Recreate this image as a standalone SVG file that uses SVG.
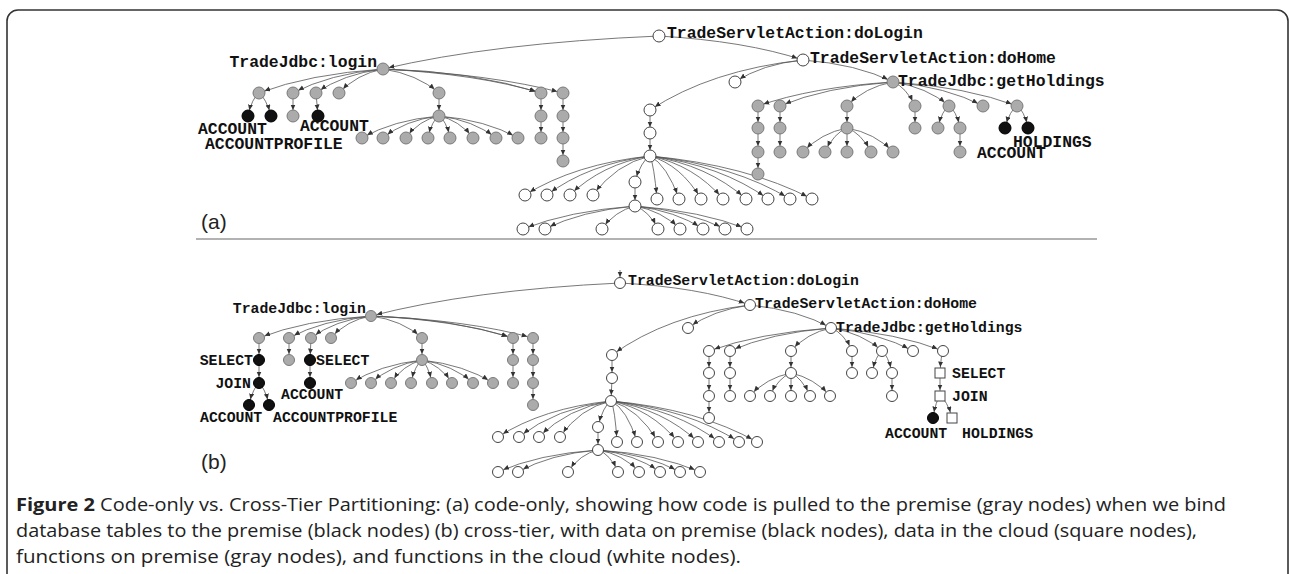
<svg xmlns="http://www.w3.org/2000/svg" width="1290" height="574" viewBox="0 0 1290 574">
<defs>
<marker id="ah" markerUnits="userSpaceOnUse" viewBox="0 0 14 6" markerWidth="14" markerHeight="6" refX="11.5" refY="2.5" orient="auto">
<path d="M0,0 L5.5,2.5 L0,5 z" fill="#333"/>
</marker>
</defs>
<style>
.e{fill:none;stroke:#555;stroke-width:.8;marker-end:url(#ah)}
.w{fill:#fff;stroke:#444;stroke-width:1}
.g{fill:#ababab;stroke:#7a7a7a;stroke-width:1}
.k{fill:#111;stroke:#000;stroke-width:1}
.sq{fill:#fff;stroke:#444;stroke-width:1}
.t{font-family:"Liberation Mono","Courier New",monospace;font-weight:bold;fill:#111}
.ta{font-size:16.4px}
.tb{font-size:14.8px}
.pl{font-family:"Liberation Sans",Arial,sans-serif;font-size:21px;fill:#222}
.cap{font-family:"Open Sans","Noto Sans",sans-serif;font-size:18px;fill:#222}
</style>
<rect width="1290" height="574" fill="#fff"/>
<!-- figure frame -->
<rect x="7" y="10" width="1281" height="620" rx="11" fill="none" stroke="#333" stroke-width="1.6"/>
<line x1="196" y1="239" x2="1097" y2="239" stroke="#999" stroke-width="1.5"/>
<text class="pl" x="201" y="229">(a)</text>
<text class="pl" x="201" y="469">(b)</text>

<g id="connectors">
<!-- panel (a) -->
<path class="e" d="M659 36Q493 43 383 69"/>
<path class="e" d="M659 36Q745 41 803 60"/>
<path class="e" d="M803 60Q857 64 893 82"/>
<path class="e" d="M803 60Q762 64 735 82"/>
<path class="e" d="M803 60Q711 70 650 110"/>
<path class="e" d="M650 110L650 133"/>
<path class="e" d="M650 133L650 156"/>
<path class="e" d="M383 69Q309 74 259 93"/>
<path class="e" d="M383 69Q329 74 293 93"/>
<path class="e" d="M383 69Q343 74 316 93"/>
<path class="e" d="M383 69Q357 74 339 93"/>
<path class="e" d="M383 69Q417 74 439 93"/>
<path class="e" d="M383 69Q478 74 541 93"/>
<path class="e" d="M383 69Q472 71 541 93"/>
<path class="e" d="M383 69Q491 74 563 93"/>
<path class="e" d="M259 93Q252 98 248 116"/>
<path class="e" d="M259 93Q266 98 271 116"/>
<path class="e" d="M293 93L293 116"/>
<path class="e" d="M316 93L318 116"/>
<path class="e" d="M439 93L439 116"/>
<path class="e" d="M439 116Q393 120 362 138"/>
<path class="e" d="M439 116Q405 120 383 138"/>
<path class="e" d="M439 116Q419 120 406 138"/>
<path class="e" d="M439 116Q432 120 428 138"/>
<path class="e" d="M439 116Q446 120 450 138"/>
<path class="e" d="M439 116Q459 120 473 138"/>
<path class="e" d="M439 116Q473 120 496 138"/>
<path class="e" d="M439 116Q486 120 518 138"/>
<path class="e" d="M541 93L541 116"/>
<path class="e" d="M541 116L541 138"/>
<path class="e" d="M563 93L563 116"/>
<path class="e" d="M563 116L563 138"/>
<path class="e" d="M563 138L563 161"/>
<path class="e" d="M650 156Q575 164 525 195"/>
<path class="e" d="M650 156Q588 164 547 195"/>
<path class="e" d="M650 156Q602 164 570 195"/>
<path class="e" d="M650 156Q616 164 593 195"/>
<path class="e" d="M650 156Q641 161 635 182"/>
<path class="e" d="M650 156Q654 165 657 199"/>
<path class="e" d="M650 156Q667 165 679 199"/>
<path class="e" d="M650 156Q681 165 701 199"/>
<path class="e" d="M650 156Q694 165 723 199"/>
<path class="e" d="M650 156Q708 165 746 199"/>
<path class="e" d="M650 156Q721 165 768 199"/>
<path class="e" d="M650 156Q734 165 790 199"/>
<path class="e" d="M650 156Q747 165 812 199"/>
<path class="e" d="M635 182L635 206"/>
<path class="e" d="M635 206Q568 211 523 229"/>
<path class="e" d="M635 206Q581 211 545 229"/>
<path class="e" d="M635 206Q615 211 602 229"/>
<path class="e" d="M635 206Q649 211 658 229"/>
<path class="e" d="M635 206Q662 211 680 229"/>
<path class="e" d="M635 206Q676 211 703 229"/>
<path class="e" d="M635 206Q689 211 725 229"/>
<path class="e" d="M635 206Q702 211 747 229"/>
<path class="e" d="M893 82Q812 87 758 106"/>
<path class="e" d="M893 82Q825 87 780 106"/>
<path class="e" d="M893 82Q865 87 847 106"/>
<path class="e" d="M893 82Q906 87 915 106"/>
<path class="e" d="M893 82Q927 87 949 106"/>
<path class="e" d="M893 82Q947 87 983 106"/>
<path class="e" d="M893 82Q967 87 1017 106"/>
<path class="e" d="M758 106L758 128"/>
<path class="e" d="M758 128L758 152"/>
<path class="e" d="M758 152L758 174"/>
<path class="e" d="M780 106L780 128"/>
<path class="e" d="M780 128L780 152"/>
<path class="e" d="M847 106L847 128"/>
<path class="e" d="M847 128Q821 133 803 152"/>
<path class="e" d="M847 128Q834 133 825 152"/>
<path class="e" d="M847 128L847 152"/>
<path class="e" d="M847 128Q861 133 871 152"/>
<path class="e" d="M847 128Q875 133 893 152"/>
<path class="e" d="M915 106L915 128"/>
<path class="e" d="M949 106Q942 110 938 128"/>
<path class="e" d="M949 106Q956 110 960 128"/>
<path class="e" d="M960 128L960 152"/>
<path class="e" d="M1017 106Q1010 110 1005 128"/>
<path class="e" d="M1017 106Q1024 110 1028 128"/>
<!-- panel (b) -->
<path class="e" d="M620 270L620 283"/>
<path class="e" d="M620 283Q471 290 371 316"/>
<path class="e" d="M620 283Q698 287 750 305"/>
<path class="e" d="M750 305Q799 310 831 328"/>
<path class="e" d="M750 305Q713 310 688 328"/>
<path class="e" d="M750 305Q667 315 612 355"/>
<path class="e" d="M612 355L612 378"/>
<path class="e" d="M612 378L611 401"/>
<path class="e" d="M371 316Q304 320 259 338"/>
<path class="e" d="M371 316Q322 320 289 338"/>
<path class="e" d="M371 316Q335 320 311 338"/>
<path class="e" d="M371 316Q347 320 331 338"/>
<path class="e" d="M371 316Q402 320 422 338"/>
<path class="e" d="M371 316Q456 320 513 338"/>
<path class="e" d="M371 316Q450 318 513 338"/>
<path class="e" d="M371 316Q468 320 533 338"/>
<path class="e" d="M259 338L259 360"/>
<path class="e" d="M259 360L259 383"/>
<path class="e" d="M259 383Q253 388 249 405"/>
<path class="e" d="M259 383Q265 388 269 405"/>
<path class="e" d="M289 338L289 360"/>
<path class="e" d="M311 338L310 360"/>
<path class="e" d="M310 360L310 383"/>
<path class="e" d="M422 338L422 360"/>
<path class="e" d="M422 360Q379 365 351 383"/>
<path class="e" d="M422 360Q391 365 371 383"/>
<path class="e" d="M422 360Q403 365 391 383"/>
<path class="e" d="M422 360Q415 365 411 383"/>
<path class="e" d="M422 360Q428 365 432 383"/>
<path class="e" d="M422 360Q440 365 452 383"/>
<path class="e" d="M422 360Q453 365 473 383"/>
<path class="e" d="M422 360Q465 365 493 383"/>
<path class="e" d="M513 338L513 360"/>
<path class="e" d="M513 360L513 383"/>
<path class="e" d="M533 338L533 360"/>
<path class="e" d="M533 360L533 383"/>
<path class="e" d="M533 383L533 405"/>
<path class="e" d="M611 401Q543 408 498 437"/>
<path class="e" d="M611 401Q556 408 519 437"/>
<path class="e" d="M611 401Q568 408 539 437"/>
<path class="e" d="M611 401Q580 408 560 437"/>
<path class="e" d="M611 401Q603 406 598 427"/>
<path class="e" d="M611 401Q615 409 617 442"/>
<path class="e" d="M611 401Q627 409 637 442"/>
<path class="e" d="M611 401Q639 409 658 442"/>
<path class="e" d="M611 401Q651 409 678 442"/>
<path class="e" d="M611 401Q663 409 698 442"/>
<path class="e" d="M611 401Q676 409 719 442"/>
<path class="e" d="M611 401Q688 409 739 442"/>
<path class="e" d="M611 401Q699 409 757 442"/>
<path class="e" d="M598 427L598 450"/>
<path class="e" d="M598 450Q538 454 498 472"/>
<path class="e" d="M598 450Q550 454 518 472"/>
<path class="e" d="M598 450Q580 454 568 472"/>
<path class="e" d="M598 450Q610 454 618 472"/>
<path class="e" d="M598 450Q623 454 639 472"/>
<path class="e" d="M598 450Q635 454 660 472"/>
<path class="e" d="M598 450Q647 454 680 472"/>
<path class="e" d="M598 450Q659 454 700 472"/>
<path class="e" d="M831 328Q758 333 709 351"/>
<path class="e" d="M831 328Q770 333 730 351"/>
<path class="e" d="M831 328Q807 333 791 351"/>
<path class="e" d="M831 328Q844 333 852 351"/>
<path class="e" d="M831 328Q862 333 882 351"/>
<path class="e" d="M831 328Q880 333 913 351"/>
<path class="e" d="M831 328Q898 333 943 351"/>
<path class="e" d="M709 351L709 373"/>
<path class="e" d="M709 373L709 396"/>
<path class="e" d="M709 396L709 418"/>
<path class="e" d="M730 351L730 373"/>
<path class="e" d="M730 373L730 396"/>
<path class="e" d="M791 351L791 373"/>
<path class="e" d="M791 373Q766 378 750 396"/>
<path class="e" d="M791 373Q778 378 770 396"/>
<path class="e" d="M791 373L791 396"/>
<path class="e" d="M791 373Q802 378 810 396"/>
<path class="e" d="M791 373Q814 378 830 396"/>
<path class="e" d="M852 351L852 373"/>
<path class="e" d="M882 351Q876 355 872 373"/>
<path class="e" d="M882 351Q888 355 892 373"/>
<path class="e" d="M892 373L892 396"/>
<path class="e" d="M943 351Q941 355 940 373"/>
<path class="e" d="M940 373L940 396"/>
<path class="e" d="M940 396Q936 400 933 418"/>
<path class="e" d="M940 396Q947 400 952 418"/>
</g>

<!-- panel (a) nodes: code-only partitioning -->
<g id="panel-a">
<g id="a-doLogin"><circle class="w" cx="659" cy="36" r="6"/><text class="t ta" x="667" y="38">TradeServletAction:doLogin</text></g>
<g id="a-doHome"><circle class="w" cx="803" cy="60" r="6"/><text class="t ta" x="810" y="63">TradeServletAction:doHome</text></g>
<g id="a-getHoldings"><circle class="g" cx="893" cy="82" r="6"/><text class="t ta" x="898" y="86">TradeJdbc:getHoldings</text></g>
<g id="a-login"><circle class="g" cx="383" cy="69" r="6"/><text class="t ta" x="377" y="67" text-anchor="end">TradeJdbc:login</text></g>
<g id="a-l1"><circle class="g" cx="259" cy="93" r="6"/></g>
<g id="a-l1-account"><circle class="k" cx="248" cy="116" r="6"/><text class="t ta" x="198" y="134">ACCOUNT</text></g>
<g id="a-l1-accountprofile"><circle class="k" cx="271" cy="116" r="6"/><text class="t ta" x="205" y="149">ACCOUNTPROFILE</text></g>
<g id="a-l2"><circle class="g" cx="293" cy="93" r="6"/></g>
<g id="a-l2-1"><circle class="g" cx="293" cy="116" r="6"/></g>
<g id="a-l3"><circle class="g" cx="316" cy="93" r="6"/></g>
<g id="a-l3-account"><circle class="k" cx="318" cy="116" r="6"/><text class="t ta" x="300" y="131">ACCOUNT</text></g>
<g id="a-l4"><circle class="g" cx="339" cy="93" r="6"/></g>
<g id="a-l5"><circle class="g" cx="439" cy="93" r="6"/></g>
<g id="a-l5-hub"><circle class="g" cx="439" cy="116" r="6"/></g>
<g id="a-l5-c1"><circle class="g" cx="362" cy="138" r="6"/></g>
<g id="a-l5-c2"><circle class="g" cx="383" cy="138" r="6"/></g>
<g id="a-l5-c3"><circle class="g" cx="406" cy="138" r="6"/></g>
<g id="a-l5-c4"><circle class="g" cx="428" cy="138" r="6"/></g>
<g id="a-l5-c5"><circle class="g" cx="450" cy="138" r="6"/></g>
<g id="a-l5-c6"><circle class="g" cx="473" cy="138" r="6"/></g>
<g id="a-l5-c7"><circle class="g" cx="496" cy="138" r="6"/></g>
<g id="a-l5-c8"><circle class="g" cx="518" cy="138" r="6"/></g>
<g id="a-l6"><circle class="g" cx="541" cy="93" r="6"/></g>
<g id="a-l6-1"><circle class="g" cx="541" cy="116" r="6"/></g>
<g id="a-l6-2"><circle class="g" cx="541" cy="138" r="6"/></g>
<g id="a-l7"><circle class="g" cx="563" cy="93" r="6"/></g>
<g id="a-l7-1"><circle class="g" cx="563" cy="116" r="6"/></g>
<g id="a-l7-2"><circle class="g" cx="563" cy="138" r="6"/></g>
<g id="a-l7-3"><circle class="g" cx="563" cy="161" r="6"/></g>
<g id="a-h1"><circle class="w" cx="735" cy="82" r="6"/></g>
<g id="a-h2"><circle class="w" cx="650" cy="110" r="6"/></g>
<g id="a-h3"><circle class="w" cx="650" cy="133" r="6"/></g>
<g id="a-hub"><circle class="w" cx="650" cy="156" r="6"/></g>
<g id="a-hub-l1"><circle class="w" cx="525" cy="195" r="6"/></g>
<g id="a-hub-l2"><circle class="w" cx="547" cy="195" r="6"/></g>
<g id="a-hub-l3"><circle class="w" cx="570" cy="195" r="6"/></g>
<g id="a-hub-l4"><circle class="w" cx="593" cy="195" r="6"/></g>
<g id="a-hub-m"><circle class="w" cx="635" cy="182" r="6"/></g>
<g id="a-hub-r1"><circle class="w" cx="657" cy="199" r="6"/></g>
<g id="a-hub-r2"><circle class="w" cx="679" cy="199" r="6"/></g>
<g id="a-hub-r3"><circle class="w" cx="701" cy="199" r="6"/></g>
<g id="a-hub-r4"><circle class="w" cx="723" cy="199" r="6"/></g>
<g id="a-hub-r5"><circle class="w" cx="746" cy="199" r="6"/></g>
<g id="a-hub-r6"><circle class="w" cx="768" cy="199" r="6"/></g>
<g id="a-hub-r7"><circle class="w" cx="790" cy="199" r="6"/></g>
<g id="a-hub-r8"><circle class="w" cx="812" cy="199" r="6"/></g>
<g id="a-hub2"><circle class="w" cx="635" cy="206" r="6"/></g>
<g id="a-hub2-c1"><circle class="w" cx="523" cy="229" r="6"/></g>
<g id="a-hub2-c2"><circle class="w" cx="545" cy="229" r="6"/></g>
<g id="a-hub2-c3"><circle class="w" cx="602" cy="229" r="6"/></g>
<g id="a-hub2-c4"><circle class="w" cx="658" cy="229" r="6"/></g>
<g id="a-hub2-c5"><circle class="w" cx="680" cy="229" r="6"/></g>
<g id="a-hub2-c6"><circle class="w" cx="703" cy="229" r="6"/></g>
<g id="a-hub2-c7"><circle class="w" cx="725" cy="229" r="6"/></g>
<g id="a-hub2-c8"><circle class="w" cx="747" cy="229" r="6"/></g>
<g id="a-g1"><circle class="g" cx="758" cy="106" r="6"/></g>
<g id="a-g1-1"><circle class="g" cx="758" cy="128" r="6"/></g>
<g id="a-g1-2"><circle class="g" cx="758" cy="152" r="6"/></g>
<g id="a-g1-3"><circle class="g" cx="758" cy="174" r="6"/></g>
<g id="a-g2"><circle class="g" cx="780" cy="106" r="6"/></g>
<g id="a-g2-1"><circle class="g" cx="780" cy="128" r="6"/></g>
<g id="a-g2-2"><circle class="g" cx="780" cy="152" r="6"/></g>
<g id="a-g3"><circle class="g" cx="847" cy="106" r="6"/></g>
<g id="a-g3-hub"><circle class="g" cx="847" cy="128" r="6"/></g>
<g id="a-g3-c1"><circle class="g" cx="803" cy="152" r="6"/></g>
<g id="a-g3-c2"><circle class="g" cx="825" cy="152" r="6"/></g>
<g id="a-g3-c3"><circle class="g" cx="847" cy="152" r="6"/></g>
<g id="a-g3-c4"><circle class="g" cx="871" cy="152" r="6"/></g>
<g id="a-g3-c5"><circle class="g" cx="893" cy="152" r="6"/></g>
<g id="a-g4"><circle class="g" cx="915" cy="106" r="6"/></g>
<g id="a-g4-1"><circle class="g" cx="915" cy="128" r="6"/></g>
<g id="a-g5"><circle class="g" cx="949" cy="106" r="6"/></g>
<g id="a-g5-1"><circle class="g" cx="938" cy="128" r="6"/></g>
<g id="a-g5-2"><circle class="g" cx="960" cy="128" r="6"/></g>
<g id="a-g5-3"><circle class="g" cx="960" cy="152" r="6"/></g>
<g id="a-g6"><circle class="g" cx="983" cy="106" r="6"/></g>
<g id="a-g7"><circle class="g" cx="1017" cy="106" r="6"/></g>
<g id="a-g7-account"><circle class="k" cx="1005" cy="128" r="6"/><text class="t ta" x="977" y="158">ACCOUNT</text></g>
<g id="a-g7-holdings"><circle class="k" cx="1028" cy="128" r="6"/><text class="t ta" x="1013" y="147">HOLDINGS</text></g>
</g>

<!-- panel (b) nodes: cross-tier partitioning -->
<g id="panel-b">
<g id="b-doLogin"><circle class="w" cx="620" cy="283" r="5.5"/><text class="t tb" x="628" y="285">TradeServletAction:doLogin</text></g>
<g id="b-doHome"><circle class="w" cx="750" cy="305" r="5.5"/><text class="t tb" x="755" y="308">TradeServletAction:doHome</text></g>
<g id="b-getHoldings"><circle class="w" cx="831" cy="328" r="5.5"/><text class="t tb" x="836" y="332">TradeJdbc:getHoldings</text></g>
<g id="b-login"><circle class="g" cx="371" cy="316" r="5.5"/><text class="t tb" x="366" y="313" text-anchor="end">TradeJdbc:login</text></g>
<g id="b-l1"><circle class="g" cx="259" cy="338" r="5.5"/></g>
<g id="b-l1-select"><circle class="k" cx="259" cy="360" r="5.5"/><text class="t tb" x="253" y="365" text-anchor="end">SELECT</text></g>
<g id="b-l1-join"><circle class="k" cx="259" cy="383" r="5.5"/><text class="t tb" x="251" y="388" text-anchor="end">JOIN</text></g>
<g id="b-l1-account"><circle class="k" cx="249" cy="405" r="5.5"/><text class="t tb" x="200" y="422">ACCOUNT</text></g>
<g id="b-l1-accountprofile"><circle class="k" cx="269" cy="405" r="5.5"/><text class="t tb" x="273" y="422">ACCOUNTPROFILE</text></g>
<g id="b-l2"><circle class="g" cx="289" cy="338" r="5.5"/></g>
<g id="b-l2-1"><circle class="g" cx="289" cy="360" r="5.5"/></g>
<g id="b-l3"><circle class="g" cx="311" cy="338" r="5.5"/></g>
<g id="b-l3-select"><circle class="k" cx="310" cy="360" r="5.5"/><text class="t tb" x="316" y="365">SELECT</text></g>
<g id="b-l3-account"><circle class="k" cx="310" cy="383" r="5.5"/><text class="t tb" x="281" y="399">ACCOUNT</text></g>
<g id="b-l4"><circle class="g" cx="331" cy="338" r="5.5"/></g>
<g id="b-l5"><circle class="g" cx="422" cy="338" r="5.5"/></g>
<g id="b-l5-hub"><circle class="g" cx="422" cy="360" r="5.5"/></g>
<g id="b-l5-c1"><circle class="g" cx="351" cy="383" r="5.5"/></g>
<g id="b-l5-c2"><circle class="g" cx="371" cy="383" r="5.5"/></g>
<g id="b-l5-c3"><circle class="g" cx="391" cy="383" r="5.5"/></g>
<g id="b-l5-c4"><circle class="g" cx="411" cy="383" r="5.5"/></g>
<g id="b-l5-c5"><circle class="g" cx="432" cy="383" r="5.5"/></g>
<g id="b-l5-c6"><circle class="g" cx="452" cy="383" r="5.5"/></g>
<g id="b-l5-c7"><circle class="g" cx="473" cy="383" r="5.5"/></g>
<g id="b-l5-c8"><circle class="g" cx="493" cy="383" r="5.5"/></g>
<g id="b-l6"><circle class="g" cx="513" cy="338" r="5.5"/></g>
<g id="b-l6-1"><circle class="g" cx="513" cy="360" r="5.5"/></g>
<g id="b-l6-2"><circle class="g" cx="513" cy="383" r="5.5"/></g>
<g id="b-l7"><circle class="g" cx="533" cy="338" r="5.5"/></g>
<g id="b-l7-1"><circle class="g" cx="533" cy="360" r="5.5"/></g>
<g id="b-l7-2"><circle class="g" cx="533" cy="383" r="5.5"/></g>
<g id="b-l7-3"><circle class="g" cx="533" cy="405" r="5.5"/></g>
<g id="b-h1"><circle class="w" cx="688" cy="328" r="5.5"/></g>
<g id="b-h2"><circle class="w" cx="612" cy="355" r="5.5"/></g>
<g id="b-h3"><circle class="w" cx="612" cy="378" r="5.5"/></g>
<g id="b-hub"><circle class="w" cx="611" cy="401" r="5.5"/></g>
<g id="b-hub-l1"><circle class="w" cx="498" cy="437" r="5.5"/></g>
<g id="b-hub-l2"><circle class="w" cx="519" cy="437" r="5.5"/></g>
<g id="b-hub-l3"><circle class="w" cx="539" cy="437" r="5.5"/></g>
<g id="b-hub-l4"><circle class="w" cx="560" cy="437" r="5.5"/></g>
<g id="b-hub-m"><circle class="w" cx="598" cy="427" r="5.5"/></g>
<g id="b-hub-r1"><circle class="w" cx="617" cy="442" r="5.5"/></g>
<g id="b-hub-r2"><circle class="w" cx="637" cy="442" r="5.5"/></g>
<g id="b-hub-r3"><circle class="w" cx="658" cy="442" r="5.5"/></g>
<g id="b-hub-r4"><circle class="w" cx="678" cy="442" r="5.5"/></g>
<g id="b-hub-r5"><circle class="w" cx="698" cy="442" r="5.5"/></g>
<g id="b-hub-r6"><circle class="w" cx="719" cy="442" r="5.5"/></g>
<g id="b-hub-r7"><circle class="w" cx="739" cy="442" r="5.5"/></g>
<g id="b-hub-r8"><circle class="w" cx="757" cy="442" r="5.5"/></g>
<g id="b-hub2"><circle class="w" cx="598" cy="450" r="5.5"/></g>
<g id="b-hub2-c1"><circle class="w" cx="498" cy="472" r="5.5"/></g>
<g id="b-hub2-c2"><circle class="w" cx="518" cy="472" r="5.5"/></g>
<g id="b-hub2-c3"><circle class="w" cx="568" cy="472" r="5.5"/></g>
<g id="b-hub2-c4"><circle class="w" cx="618" cy="472" r="5.5"/></g>
<g id="b-hub2-c5"><circle class="w" cx="639" cy="472" r="5.5"/></g>
<g id="b-hub2-c6"><circle class="w" cx="660" cy="472" r="5.5"/></g>
<g id="b-hub2-c7"><circle class="w" cx="680" cy="472" r="5.5"/></g>
<g id="b-hub2-c8"><circle class="w" cx="700" cy="472" r="5.5"/></g>
<g id="b-g1"><circle class="w" cx="709" cy="351" r="5.5"/></g>
<g id="b-g1-1"><circle class="w" cx="709" cy="373" r="5.5"/></g>
<g id="b-g1-2"><circle class="w" cx="709" cy="396" r="5.5"/></g>
<g id="b-g1-3"><circle class="w" cx="709" cy="418" r="5.5"/></g>
<g id="b-g2"><circle class="w" cx="730" cy="351" r="5.5"/></g>
<g id="b-g2-1"><circle class="w" cx="730" cy="373" r="5.5"/></g>
<g id="b-g2-2"><circle class="w" cx="730" cy="396" r="5.5"/></g>
<g id="b-g3"><circle class="w" cx="791" cy="351" r="5.5"/></g>
<g id="b-g3-hub"><circle class="w" cx="791" cy="373" r="5.5"/></g>
<g id="b-g3-c1"><circle class="w" cx="750" cy="396" r="5.5"/></g>
<g id="b-g3-c2"><circle class="w" cx="770" cy="396" r="5.5"/></g>
<g id="b-g3-c3"><circle class="w" cx="791" cy="396" r="5.5"/></g>
<g id="b-g3-c4"><circle class="w" cx="810" cy="396" r="5.5"/></g>
<g id="b-g3-c5"><circle class="w" cx="830" cy="396" r="5.5"/></g>
<g id="b-g4"><circle class="w" cx="852" cy="351" r="5.5"/></g>
<g id="b-g4-1"><circle class="w" cx="852" cy="373" r="5.5"/></g>
<g id="b-g5"><circle class="w" cx="882" cy="351" r="5.5"/></g>
<g id="b-g5-1"><circle class="w" cx="872" cy="373" r="5.5"/></g>
<g id="b-g5-2"><circle class="w" cx="892" cy="373" r="5.5"/></g>
<g id="b-g5-3"><circle class="w" cx="892" cy="396" r="5.5"/></g>
<g id="b-g6"><circle class="w" cx="913" cy="351" r="5.5"/></g>
<g id="b-g7"><circle class="w" cx="943" cy="351" r="5.5"/></g>
<g id="b-g7-select"><rect class="sq" x="935" y="368" width="10" height="10"/><text class="t tb" x="952" y="378">SELECT</text></g>
<g id="b-g7-join"><rect class="sq" x="935" y="391" width="10" height="10"/><text class="t tb" x="952" y="401">JOIN</text></g>
<g id="b-g7-account"><circle class="k" cx="933" cy="418" r="5.5"/><text class="t tb" x="885" y="438">ACCOUNT</text></g>
<g id="b-g7-holdings"><rect class="sq" x="947" y="413" width="10" height="10"/><text class="t tb" x="962" y="438">HOLDINGS</text></g>
</g>

<!-- caption -->
<g id="caption" class="cap">
<text x="16" y="511" textLength="1210" lengthAdjust="spacingAndGlyphs"><tspan font-weight="bold">Figure 2</tspan> Code-only vs. Cross-Tier Partitioning: (a) code-only, showing how code is pulled to the premise (gray nodes) when we bind</text>
<text x="16" y="537" textLength="1181" lengthAdjust="spacingAndGlyphs">database tables to the premise (black nodes) (b) cross-tier, with data on premise (black nodes), data in the cloud (square nodes),</text>
<text x="16" y="563" textLength="725" lengthAdjust="spacingAndGlyphs">functions on premise (gray nodes), and functions in the cloud (white nodes).</text>
</g>
</svg>
